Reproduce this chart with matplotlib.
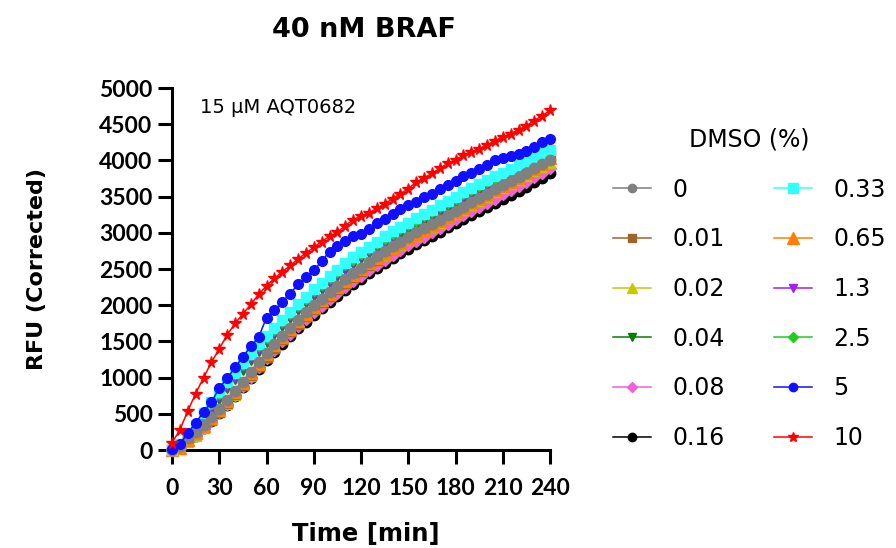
import matplotlib
matplotlib.use("Agg")
import matplotlib.pyplot as plt

plt.rcParams['font.family'] = ['DejaVu Sans']

# time points (min)
time_min = list(range(0, 241, 5))

dmso_labels = ['0', '0.01', '0.02', '0.04', '0.08', '0.16',
               '0.33', '0.65', '1.3', '2.5', '5', '10']

rfu_0 = [0, 60, 170, 250, 350, 450, 570, 690, 815, 945, 1075, 1210, 1340, 1465, 1580, 1690, 1800,
         1900, 2000, 2090, 2180, 2270, 2360, 2440, 2520, 2600, 2675, 2745, 2815, 2880, 2945, 3005,
         3065, 3120, 3180, 3240, 3300, 3360, 3420, 3480, 3540, 3600, 3655, 3710, 3770, 3830, 3890,
         3950, 4010]
rfu_001 = [0, 40, 140, 220, 320, 420, 530, 650, 770, 900, 1030, 1160, 1290, 1410, 1530, 1640, 1745,
           1850, 1950, 2040, 2130, 2220, 2310, 2390, 2470, 2555, 2630, 2705, 2775, 2845, 2910, 2975,
           3035, 3095, 3160, 3220, 3285, 3345, 3410, 3470, 3535, 3595, 3655, 3715, 3780, 3845, 3910,
           3980, 4060]
rfu_002 = [0, 20, 110, 200, 300, 410, 520, 640, 765, 895, 1025, 1155, 1285, 1410, 1530, 1640, 1750,
           1850, 1950, 2045, 2135, 2225, 2315, 2395, 2475, 2555, 2630, 2700, 2770, 2835, 2900, 2960,
           3020, 3080, 3140, 3200, 3260, 3320, 3380, 3440, 3500, 3560, 3615, 3670, 3730, 3790, 3850,
           3910, 3970]
rfu_004 = [0, 50, 160, 280, 430, 570, 710, 850, 980, 1110, 1240, 1370, 1490, 1600, 1710, 1820, 1930,
           2030, 2130, 2220, 2310, 2400, 2490, 2570, 2650, 2720, 2790, 2860, 2930, 2990, 3050, 3110,
           3170, 3230, 3290, 3350, 3410, 3470, 3530, 3590, 3640, 3690, 3740, 3790, 3840, 3900, 3960,
           4010, 4060]
rfu_008 = [0, 30, 130, 210, 310, 410, 520, 640, 760, 885, 1010, 1140, 1265, 1385, 1500, 1605, 1710,
           1810, 1905, 1995, 2085, 2170, 2255, 2335, 2410, 2485, 2560, 2630, 2695, 2760, 2825, 2885,
           2945, 3005, 3065, 3125, 3185, 3240, 3300, 3360, 3415, 3470, 3530, 3585, 3645, 3705, 3765,
           3825, 3890]
rfu_016 = [0, 30, 120, 200, 300, 400, 510, 625, 745, 870, 995, 1120, 1245, 1360, 1470, 1575, 1680,
           1775, 1870, 1960, 2045, 2130, 2210, 2290, 2365, 2440, 2510, 2580, 2650, 2715, 2780, 2840,
           2900, 2960, 3015, 3075, 3130, 3190, 3245, 3300, 3360, 3415, 3470, 3525, 3580, 3635, 3695,
           3760, 3830]
rfu_033 = [0, 90, 220, 350, 510, 660, 800, 940, 1070, 1200, 1330, 1460, 1580, 1690, 1800, 1910, 2020,
           2120, 2220, 2310, 2400, 2490, 2580, 2660, 2740, 2810, 2880, 2950, 3020, 3080, 3140, 3200,
           3260, 3320, 3380, 3440, 3500, 3560, 3620, 3680, 3730, 3780, 3830, 3880, 3930, 3990, 4050,
           4100, 4150]
rfu_065 = [0, 30, 140, 230, 330, 440, 555, 675, 800, 930, 1060, 1190, 1320, 1445, 1560, 1670, 1780,
           1880, 1980, 2070, 2160, 2250, 2340, 2420, 2500, 2580, 2655, 2725, 2795, 2860, 2925, 2985,
           3045, 3105, 3165, 3225, 3285, 3345, 3405, 3465, 3525, 3585, 3640, 3700, 3760, 3820, 3880,
           3950, 4030]
rfu_13 = [0, 70, 190, 320, 460, 600, 740, 880, 1010, 1140, 1270, 1400, 1520, 1630, 1740, 1850, 1960,
          2060, 2160, 2250, 2340, 2430, 2520, 2600, 2680, 2750, 2820, 2890, 2960, 3020, 3080, 3140,
          3200, 3260, 3320, 3380, 3440, 3500, 3560, 3615, 3665, 3715, 3765, 3815, 3865, 3925, 3985,
          4035, 4085]
rfu_25 = [0, 80, 210, 340, 490, 640, 780, 920, 1050, 1180, 1310, 1430, 1550, 1660, 1770, 1880, 1990,
          2090, 2190, 2280, 2370, 2460, 2550, 2630, 2710, 2780, 2850, 2920, 2990, 3050, 3110, 3170,
          3230, 3290, 3350, 3410, 3470, 3530, 3590, 3650, 3700, 3750, 3800, 3850, 3900, 3955, 4010,
          4060, 4110]
rfu_5 = [20, 90, 230, 380, 520, 660, 860, 990, 1140, 1290, 1430, 1560, 1830, 1930, 2050, 2160, 2290,
         2390, 2480, 2610, 2740, 2820, 2890, 2950, 2990, 3050, 3130, 3190, 3260, 3330, 3380, 3420,
         3490, 3530, 3600, 3660, 3720, 3780, 3820, 3880, 3940, 4000, 4030, 4060, 4090, 4130, 4190,
         4250, 4300]
rfu_10 = [100, 280, 540, 780, 1000, 1210, 1400, 1590, 1750, 1880, 2010, 2150, 2270, 2370, 2460, 2550,
          2640, 2720, 2800, 2880, 2950, 3010, 3100, 3180, 3230, 3270, 3340, 3400, 3470, 3540, 3610,
          3700, 3760, 3820, 3890, 3960, 4010, 4070, 4110, 4160, 4210, 4270, 4320, 4370, 4420, 4480,
          4550, 4620, 4690]

series = [rfu_0, rfu_001, rfu_002, rfu_004, rfu_008, rfu_016,
          rfu_033, rfu_065, rfu_13, rfu_25, rfu_5, rfu_10]

colors = ['#808080', '#9C6628', '#C8C800', '#008000', '#F060D8', '#000000',
          '#33FFFF', '#FF7F00', '#A020F0', '#22CC22', '#1010FF', '#FF0000']
markers = ['o', 's', '^', 'v', 'D', 'o', 's', '^', 'v', 'D', 'o', '*']
msizes = [7.5, 7, 7.5, 7.5, 6, 7.5, 7, 8, 7.5, 5.5, 7, 8.5]
leg_sizes = [6, 6, 6.5, 6, 5.5, 6, 6.5, 8.5, 6, 5, 6, 7]
# gray on top of the crowded group, cyan above the greens
zorders = [18, 12, 11, 13, 10, 9, 17, 14, 15, 16, 19, 20]

fig = plt.figure(figsize=(8.96, 5.48), dpi=100)
ax = fig.add_axes([0.192, 0.1788, 0.4219, 0.6606])

handles = []
for vals, c, m, ms, z, lab in zip(series, colors, markers, msizes, zorders, dmso_labels):
    h, = ax.plot(time_min, vals, color=c, marker=m, markersize=ms, mec=c, mfc=c,
                 linewidth=1.1, label=lab, zorder=z, clip_on=False)
    handles.append(h)

ax.set_xlim(0, 240)
ax.set_ylim(0, 5000)
ax.set_xticks(range(0, 241, 30))
ax.set_yticks(range(0, 5001, 500))
for s in ['top', 'right']:
    ax.spines[s].set_visible(False)
for s in ['left', 'bottom']:
    ax.spines[s].set_linewidth(2.2)
ax.tick_params(width=2.2, length=10, labelsize=16.5, colors='black')
ax.tick_params(axis='x', pad=10)
ax.tick_params(axis='y', pad=4)
for lbl in ax.get_xticklabels() + ax.get_yticklabels():
    lbl.set_fontweight('bold')
    lbl.set_family(['Lato', 'DejaVu Sans'])

ax.set_xlabel('Time [min]', fontsize=17.5, fontweight='bold')
ax.xaxis.set_label_coords(0.513, -0.198)
ax.set_ylabel('RFU (Corrected)', fontsize=16, fontweight='bold')
ax.yaxis.set_label_coords(-0.33, 0.5)
fig.text(0.406, 0.933, '40 nM BRAF', fontsize=19.5, fontweight='bold', ha='center', va='baseline')

ax.text(17.8, 4654, '15 μM AQT0682', fontsize=14, va='baseline', ha='left')

leg = fig.legend(handles=handles, ncol=2, loc='upper left', bbox_to_anchor=(0.6737, 0.784),
                 borderaxespad=0, frameon=False, fontsize=17, title='DMSO (%)', title_fontsize=17,
                 handlelength=1.6, handletextpad=0.9, columnspacing=2.1, labelspacing=1.09)
for lh, s in zip(leg.legend_handles, leg_sizes):
    lh.set_markersize(s)

fig.savefig('out.png', dpi=100)
